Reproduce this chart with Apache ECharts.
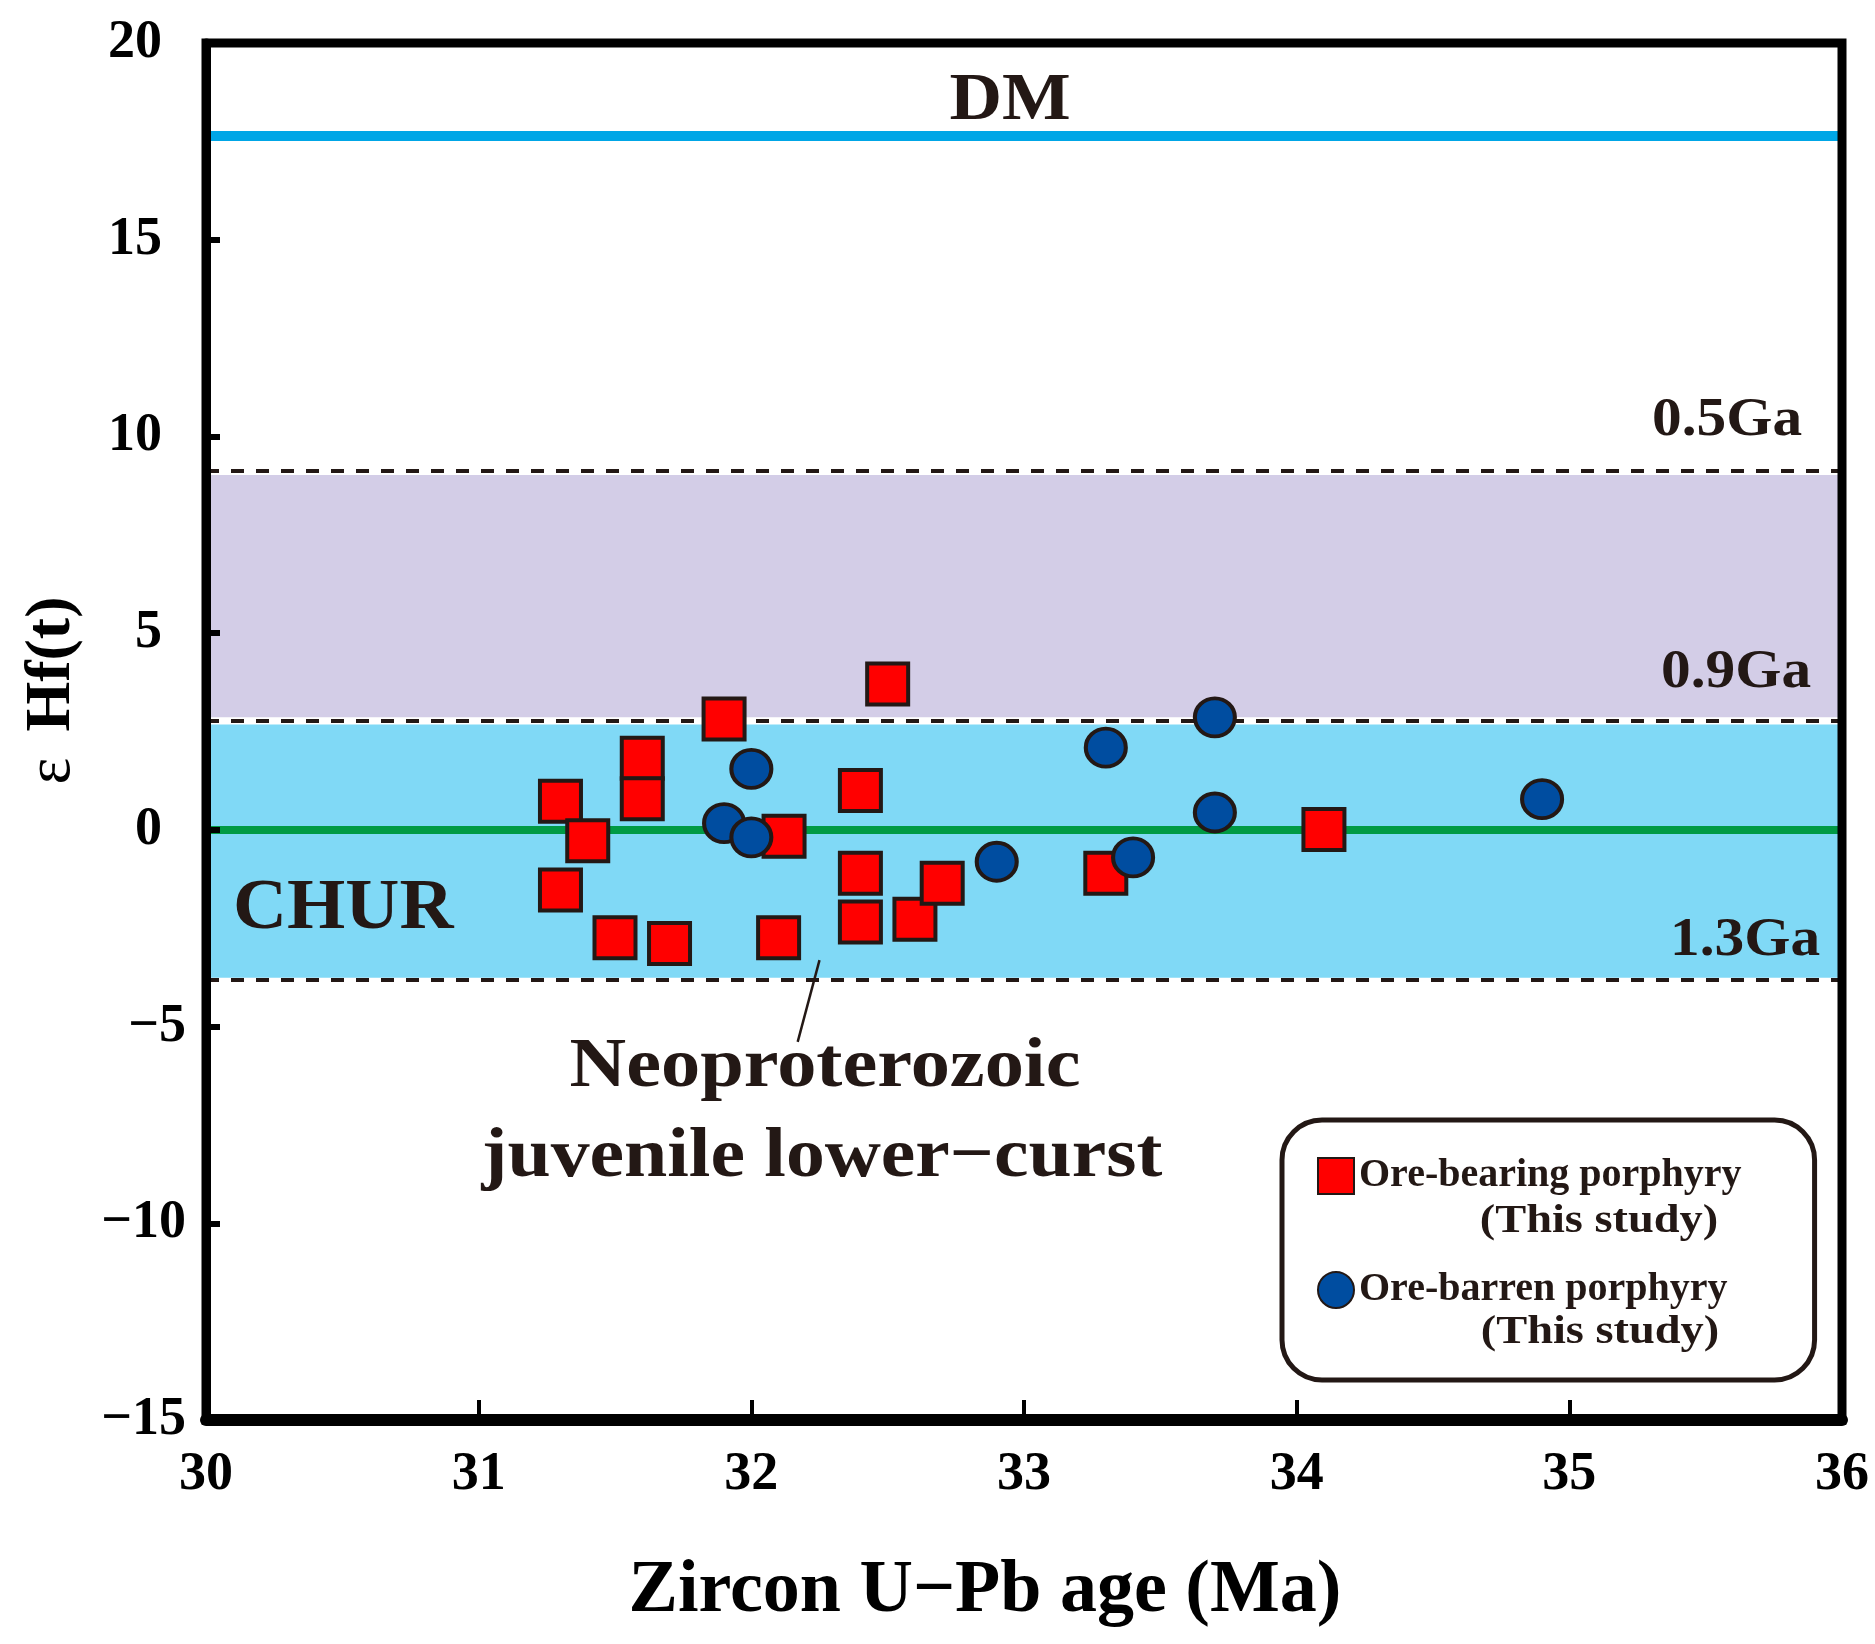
<!DOCTYPE html>
<html>
<head>
<meta charset="utf-8">
<script src="https://cdn.jsdelivr.net/npm/echarts@6/dist/echarts.min.js"></script>
<style>
html, body { margin: 0; padding: 0; background: #fff; }
#chart { width: 1875px; height: 1644px; }
</style>
</head>
<body>
<div id="chart"></div>
<script>
// values
var oreBearingAge = [31.3, 31.4, 31.3, 31.6, 31.6, 31.5, 31.7, 31.9, 32.5, 32.12, 32.1, 32.4, 32.4, 32.4, 32.6, 32.7, 33.3, 34.1];
var oreBearingHf  = [0.73, -0.28, -1.53, 1.82, 0.79, -2.74, -2.89, 2.82, 3.71, -0.16, -2.74, 1.0, -1.1, -2.34, -2.27, -1.36, -1.1, 0.01];
var oreBarrenAge  = [31.9, 32.0, 32.0, 32.9, 33.3, 33.7, 33.7, 33.4, 34.9];
var oreBarrenHf   = [0.17, 1.55, -0.19, -0.81, 2.09, 2.86, 0.44, -0.70, 0.78];

var xTicks = [30, 31, 32, 33, 34, 35, 36];
var yTicks = [-15, -10, -5, 0, 5, 10, 15, 20];

// reference lines (eHf) : DM, 0.5Ga, 0.9Ga, 1.3Ga, CHUR
var refNames = ['DM', '0.5Ga', '0.9Ga', '1.3Ga', 'CHUR'];
var refHf    = [17.65, 9.12, 2.77, -3.8, 0];
// shaded bands [top, bottom]
var purpleBand = [9.02, 2.86];
var blueBand   = [2.68, -3.76];
// leader line of the Neoproterozoic label
var leaderAge = [32.25, 32.17];
var leaderHf  = [-3.31, -5.39];

var FONT = '"Liberation Serif", "Times New Roman", serif';
var INK = '#231815';

function pairs(xs, ys) {
	return xs.map(function (x, i) { return [x, ys[i]]; });
}

var chart = echarts.init(document.getElementById('chart'));

function txt(text, x, y, size, align, sx) {
	return {
		type: 'text', x: x, y: y, z: 100, scaleX: sx || 1,
		style: {
			text: text, fill: INK, align: align, verticalAlign: 'middle',
			font: 'bold ' + size + 'px ' + FONT
		}
	};
}

var option = {
	animation: false,
	backgroundColor: '#fff',
	grid: {
		left: 206, right: 33, top: 43, bottom: 224,
		show: true, borderColor: '#000', borderWidth: 9, z: 10,
		backgroundColor: 'transparent'
	},
	xAxis: {
		type: 'value', min: xTicks[0], max: xTicks[xTicks.length - 1], interval: 1, z: 11,
		name: 'Zircon U\u2212Pb age (Ma)', nameLocation: 'middle', nameGap: 135,
		nameTextStyle: { fontFamily: FONT, fontWeight: 'bold', fontSize: 74, color: '#000', padding: [0, 78, 0, 0] },
		axisLine: { onZero: false, lineStyle: { color: '#000', width: 12 } },
		axisTick: { inside: true, length: 20, lineStyle: { color: '#000', width: 4 } },
		axisLabel: { margin: 28, fontFamily: FONT, fontWeight: 'bold', fontSize: 54, color: '#000' },
		splitLine: { show: false }
	},
	yAxis: {
		type: 'value', min: yTicks[0], max: yTicks[yTicks.length - 1], interval: 5, z: 11,
		name: '{e|\u03b5}{h|Hf(t)}', nameLocation: 'middle', nameRotate: 90, nameGap: 122,
		nameTextStyle: {
			padding: [0, 0, 0, 82],
			rich: {
				e: { fontFamily: FONT, fontSize: 64, color: '#000', padding: [0, 26, 0, 0] },
				h: { fontFamily: FONT, fontWeight: 'bold', fontSize: 64, color: '#000' }
			}
		},
		axisLine: { onZero: false, lineStyle: { color: '#000', width: 9 } },
		axisTick: { inside: true, length: 14, lineStyle: { color: '#000', width: 6 } },
		axisLabel: {
			margin: 20,
			formatter: function (v) {
				return v < 0 ? '{n|\u2212' + Math.abs(v) + '}' : '{p|' + v + '}';
			},
			rich: {
				n: { fontFamily: FONT, fontWeight: 'bold', fontSize: 54, color: '#000' },
				p: { fontFamily: FONT, fontWeight: 'bold', fontSize: 54, color: '#000', padding: [0, 24, 0, 0] }
			}
		},
		splitLine: { show: false }
	},
	legend: {
		orient: 'vertical', left: 1282, top: 1120,
		itemWidth: 36, itemHeight: 36, itemGap: 74, itemTextGap: 19,
		padding: [36, 73, 70, 35],
		borderColor: INK, borderWidth: 5, borderRadius: 40, backgroundColor: '#fff',
		textStyle: { fontFamily: FONT, fontWeight: 'bold', fontSize: 40, color: INK },
		data: [
			{ name: 'Ore-bearing porphyry', icon: 'rect' },
			{ name: 'Ore-barren porphyry', icon: 'circle' }
		]
	},
	series: [
		{
			name: 'refs', type: 'scatter', data: [], silent: true,
			markArea: {
				silent: true, z: 1,
				data: [
					[{ yAxis: purpleBand[0], itemStyle: { color: '#d3cde7' } }, { yAxis: purpleBand[1] }],
					[{ yAxis: blueBand[0], itemStyle: { color: '#80d9f6' } }, { yAxis: blueBand[1] }]
				]
			},
			markLine: {
				silent: true, z: 2, symbol: 'none', label: { show: false },
				data: [
					{ yAxis: refHf[0], lineStyle: { color: '#00a6e6', width: 10, type: 'solid' } },
					{ yAxis: refHf[1], lineStyle: { color: INK, width: 4, type: [13, 12] } },
					{ yAxis: refHf[2], lineStyle: { color: INK, width: 4, type: [13, 12] } },
					{ yAxis: refHf[3], lineStyle: { color: INK, width: 4, type: [13, 12] } },
					{ yAxis: refHf[4], lineStyle: { color: '#009a44', width: 8, type: 'solid' } },
					[
						{ coord: [leaderAge[0], leaderHf[0]], lineStyle: { color: INK, width: 2.5, type: 'solid' } },
						{ coord: [leaderAge[1], leaderHf[1]] }
					]
				]
			}
		},
		{
			name: 'Ore-bearing porphyry', type: 'scatter', z: 3,
			symbol: 'rect', symbolSize: 41,
			itemStyle: { color: '#ff0000', borderColor: INK, borderWidth: 4, opacity: 1 },
			data: pairs(oreBearingAge, oreBearingHf)
		},
		{
			name: 'Ore-barren porphyry', type: 'scatter', z: 4,
			symbol: 'circle', symbolSize: [40, 38],
			itemStyle: { color: '#004da0', borderColor: INK, borderWidth: 4, opacity: 1 },
			data: pairs(oreBarrenAge, oreBarrenHf)
		}
	],
	graphic: [
		txt(refNames[0], 1010, 101, 68, 'center', 1.07),
		txt(refNames[1], 1652, 421, 54, 'left', 1.1),
		txt(refNames[2], 1661, 673, 54, 'left', 1.1),
		txt(refNames[3], 1670, 941, 54, 'left', 1.1),
		txt(refNames[4], 233, 909, 72, 'left', 1.04),
		txt('Neoproterozoic', 825, 1068, 70, 'center', 1.12),
		txt('juvenile lower\u2212curst', 822, 1158, 70, 'center', 1.11),
		txt('(This study)', 1599, 1222, 40, 'center', 1.16),
		txt('(This study)', 1600, 1333, 40, 'center', 1.16)
	]
};

chart.setOption(option);
</script>
</body>
</html>
